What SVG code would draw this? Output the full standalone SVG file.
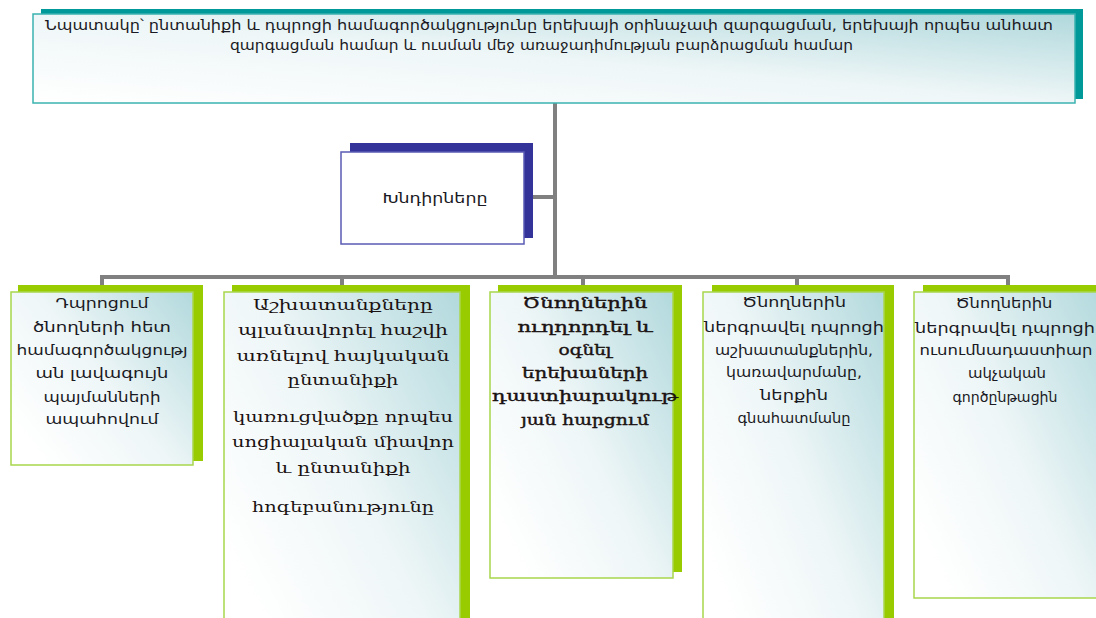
<svg xmlns="http://www.w3.org/2000/svg" width="1096" height="618" viewBox="0 0 1096 618">
<style>
.sans{font-family:"DejaVu Sans","Liberation Sans",sans-serif;font-size:13.5px;fill:#1a1a24;}
.serif{font-family:"DejaVu Serif","Liberation Serif",serif;font-size:14px;fill:#1a1212;}
.ser3{font-family:"DejaVu Serif","Liberation Serif",serif;font-size:15px;fill:#1a1212;stroke:#1a1212;stroke-width:0.4;}
.mid{text-anchor:middle;}
.conn{stroke:#808080;stroke-width:4;fill:none;}
.tshadow{fill:#009999;}
.tfront{fill:url(#gTop);stroke:#3ab3b0;stroke-width:1.5;}
.nshadow{fill:#333399;}
.nfront{fill:#ffffff;stroke:#5a5ab4;stroke-width:1.5;}
.gshadow{fill:#99cc00;}
.gfront{fill:url(#gBox);stroke:#a8d64c;stroke-width:1.5;}
</style>
<defs>
<linearGradient id="gTop" x1="0" y1="1" x2="1" y2="0">
<stop offset="0" stop-color="#ffffff"/>
<stop offset="0.5" stop-color="#eef6f7"/>
<stop offset="1" stop-color="#b0d8dc"/>
</linearGradient>
<linearGradient id="gBox" x1="0" y1="0.75" x2="1" y2="0">
<stop offset="0" stop-color="#ffffff"/>
<stop offset="0.45" stop-color="#eef6f7"/>
<stop offset="1" stop-color="#b2d9dd"/>
</linearGradient>
</defs>
<rect width="1096" height="618" fill="#ffffff"/>

<g id="connectors">
<line class="conn" x1="555" y1="103" x2="555" y2="277"/>
<line class="conn" x1="533" y1="197" x2="555" y2="197"/>
<line class="conn" x1="100" y1="277" x2="1010" y2="277"/>
<line class="conn" x1="102" y1="275" x2="102" y2="287"/>
<line class="conn" x1="342" y1="275" x2="342" y2="287"/>
<line class="conn" x1="583" y1="275" x2="583" y2="287"/>
<line class="conn" x1="797" y1="275" x2="797" y2="287"/>
<line class="conn" x1="1008" y1="275" x2="1008" y2="287"/>
</g>

<g id="goal">
<rect class="tshadow" x="41" y="9" width="1042" height="90"/>
<rect class="tfront" x="33" y="14" width="1042" height="89"/>
<text class="sans" x="45" y="30" textLength="1008" lengthAdjust="spacingAndGlyphs">Նպատակը՝ ընտանիքի և դպրոցի համագործակցությունը երեխայի օրինաչափ զարգացման, երեխայի որպես անհատ</text>
<text class="sans" x="230" y="50" textLength="623" lengthAdjust="spacingAndGlyphs">զարգացման համար և ուսման մեջ առաջադիմության բարձրացման համար</text>
</g>

<g id="tasks">
<rect class="nshadow" x="350" y="143" width="183" height="95"/>
<rect class="nfront" x="341" y="152" width="183" height="92"/>
<text class="sans mid" x="435" y="203" textLength="105" lengthAdjust="spacingAndGlyphs">Խնդիրները</text>
</g>

<g id="task1">
<rect class="gshadow" x="18" y="285" width="185" height="176"/>
<rect class="gfront" x="11" y="292" width="182" height="173"/>
<text class="sans mid" x="102" y="308" textLength="93" lengthAdjust="spacingAndGlyphs">Դպրոցում</text>
<text class="sans mid" x="102" y="332" textLength="138" lengthAdjust="spacingAndGlyphs">ծնողների հետ</text>
<text class="sans mid" x="102" y="355" textLength="171" lengthAdjust="spacingAndGlyphs">համագործակցությ</text>
<text class="sans mid" x="102" y="378" textLength="133" lengthAdjust="spacingAndGlyphs">ան լավագույն</text>
<text class="sans mid" x="102" y="402" textLength="117" lengthAdjust="spacingAndGlyphs">պայմանների</text>
<text class="sans mid" x="102" y="424" textLength="113" lengthAdjust="spacingAndGlyphs">ապահովում</text>
</g>

<g id="task2">
<rect class="gshadow" x="232" y="285" width="238" height="340"/>
<rect class="gfront" x="224" y="292" width="236" height="340"/>
<text class="serif mid" x="343" y="310" textLength="180" lengthAdjust="spacingAndGlyphs">Աշխատանքները</text>
<text class="serif mid" x="343" y="335" textLength="210" lengthAdjust="spacingAndGlyphs">պլանավորել հաշվի</text>
<text class="serif mid" x="343" y="361" textLength="213" lengthAdjust="spacingAndGlyphs">առնելով հայկական</text>
<text class="serif mid" x="343" y="385" textLength="111" lengthAdjust="spacingAndGlyphs">ընտանիքի</text>
<text class="serif mid" x="343" y="422" textLength="220" lengthAdjust="spacingAndGlyphs">կառուցվածքը որպես</text>
<text class="serif mid" x="343" y="447" textLength="222" lengthAdjust="spacingAndGlyphs">սոցիալական միավոր</text>
<text class="serif mid" x="343" y="473" textLength="135" lengthAdjust="spacingAndGlyphs">և ընտանիքի</text>
<text class="serif mid" x="343" y="512" textLength="182" lengthAdjust="spacingAndGlyphs">հոգեբանությունը</text>
</g>

<g id="task3">
<rect class="gshadow" x="498" y="285" width="184" height="287"/>
<rect class="gfront" x="490" y="292" width="183" height="286"/>
<text class="ser3 mid" x="585" y="308" textLength="125" lengthAdjust="spacingAndGlyphs">Ծնողներին</text>
<text class="ser3 mid" x="585" y="332" textLength="135" lengthAdjust="spacingAndGlyphs">ուղղորդել և</text>
<text class="ser3 mid" x="585" y="355" textLength="53" lengthAdjust="spacingAndGlyphs">օգնել</text>
<text class="ser3 mid" x="585" y="378" textLength="126" lengthAdjust="spacingAndGlyphs">երեխաների</text>
<text class="ser3 mid" x="585" y="401" textLength="186" lengthAdjust="spacingAndGlyphs">դաստիարակութ</text>
<text class="ser3 mid" x="585" y="425" textLength="128" lengthAdjust="spacingAndGlyphs">յան հարցում</text>
</g>

<g id="task4">
<rect class="gshadow" x="712" y="285" width="182" height="340"/>
<rect class="gfront" x="703" y="292" width="181" height="340"/>
<text class="sans mid" x="794" y="307" textLength="104" lengthAdjust="spacingAndGlyphs">Ծնողներին</text>
<text class="sans mid" x="794" y="332" textLength="180" lengthAdjust="spacingAndGlyphs">ներգրավել  դպրոցի</text>
<text class="sans mid" x="794" y="355" textLength="158" lengthAdjust="spacingAndGlyphs">աշխատանքներին,</text>
<text class="sans mid" x="794" y="377" textLength="136" lengthAdjust="spacingAndGlyphs">կառավարմանը,</text>
<text class="sans mid" x="794" y="400" textLength="68" lengthAdjust="spacingAndGlyphs">ներքին</text>
<text class="sans mid" x="794" y="423" textLength="113" lengthAdjust="spacingAndGlyphs">գնահատմանը</text>
</g>

<g id="task5">
<rect class="gshadow" x="923" y="285" width="180" height="307"/>
<rect class="gfront" x="914" y="292" width="190" height="306"/>
<text class="sans mid" x="1004" y="308" textLength="97" lengthAdjust="spacingAndGlyphs">Ծնողներին</text>
<text class="sans mid" x="1005" y="333" textLength="180" lengthAdjust="spacingAndGlyphs">ներգրավել  դպրոցի</text>
<text class="sans mid" x="1006" y="355" textLength="173" lengthAdjust="spacingAndGlyphs">ուսումնադաստիար</text>
<text class="sans mid" x="1007" y="378" textLength="78" lengthAdjust="spacingAndGlyphs">ակչական</text>
<text class="sans mid" x="1005" y="402" textLength="105" lengthAdjust="spacingAndGlyphs">գործընթացին</text>
</g>
</svg>
